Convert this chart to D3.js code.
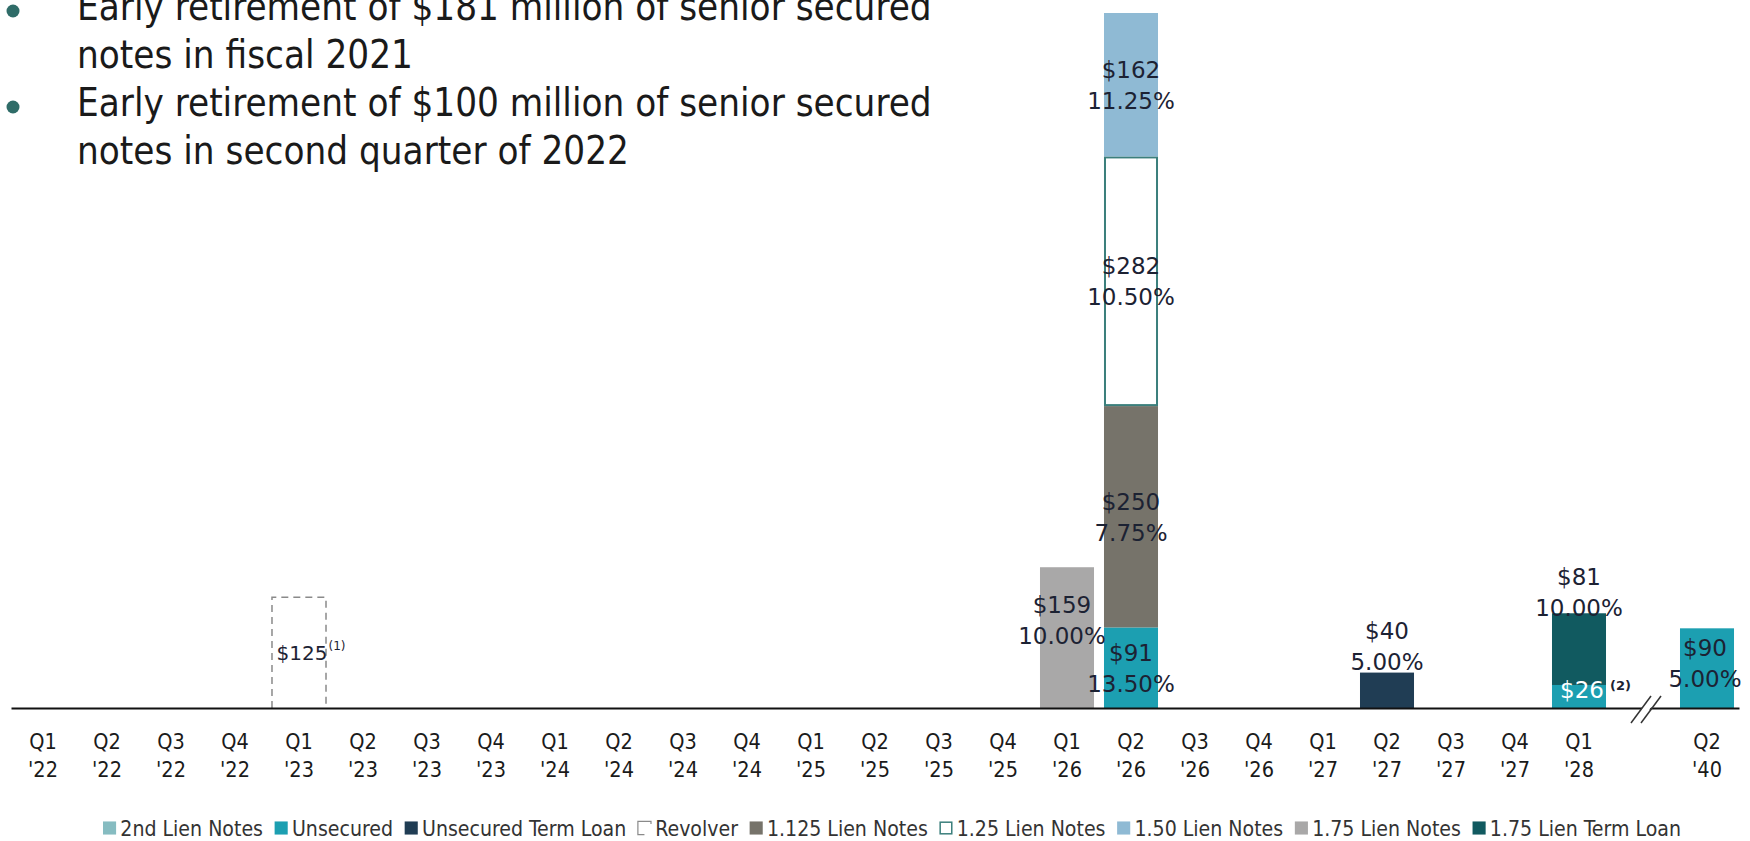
<!DOCTYPE html>
<html>
<head>
<meta charset="utf-8">
<script src="https://cdn.jsdelivr.net/npm/d3@7/dist/d3.min.js"></script>
<style>
  html, body { margin: 0; padding: 0; background: #ffffff; }
  svg { display: block; }
</style>
</head>
<body>
<svg id="chart" width="1750" height="841"></svg>
<script>
// ---- Debt maturity schedule ($ millions, with coupon rates) ----
const quarters = [
  "Q1 '22", "Q2 '22", "Q3 '22", "Q4 '22",
  "Q1 '23", "Q2 '23", "Q3 '23", "Q4 '23",
  "Q1 '24", "Q2 '24", "Q3 '24", "Q4 '24",
  "Q1 '25", "Q2 '25", "Q3 '25", "Q4 '25",
  "Q1 '26", "Q2 '26", "Q3 '26", "Q4 '26",
  "Q1 '27", "Q2 '27", "Q3 '27", "Q4 '27",
  "Q1 '28"
];
const farQuarter = "Q2 '40";

// [quarter, amount, rate]
const secondLienNotes   = [];
const unsecured         = [["Q2 '26", 91, "13.50%"], ["Q1 '28", 26, null], ["Q2 '40", 90, "5.00%"]];
const unsecuredTermLoan = [["Q2 '27", 40, "5.00%"]];
const revolver          = [["Q1 '23", 125, null]];
const lien1125Notes     = [["Q2 '26", 250, "7.75%"]];
const lien125Notes      = [["Q2 '26", 282, "10.50%"]];
const lien150Notes      = [["Q2 '26", 162, "11.25%"]];
const lien175Notes      = [["Q1 '26", 159, "10.00%"]];
const lien175TermLoan   = [["Q1 '28", 81, "10.00%"]];

const footnotes = [["Q1 '23", "Revolver", "(1)"], ["Q1 '28", "Unsecured", "(2)"]];

const bullets = [
  ["Early retirement of $181 million of senior secured", "notes in fiscal 2021"],
  ["Early retirement of $100 million of senior secured", "notes in second quarter of 2022"]
];

// ---- series definitions (stack order bottom -> top) ----
const series = [
  { key: "Unsecured",           data: unsecured,         fill: "#1c9fb1", text: "#1c2233" },
  { key: "Unsecured Term Loan", data: unsecuredTermLoan, fill: "#203d54", text: "#1c2233" },
  { key: "Revolver",            data: revolver,          fill: "none",    text: "#1c2233", dashed: true },
  { key: "1.125 Lien Notes",    data: lien1125Notes,     fill: "#76736a", text: "#1c2233" },
  { key: "1.25 Lien Notes",     data: lien125Notes,      fill: "#ffffff", text: "#1c2233", outline: "#3b7f7c" },
  { key: "1.50 Lien Notes",     data: lien150Notes,      fill: "#8fbad4", text: "#1c2233" },
  { key: "1.75 Lien Notes",     data: lien175Notes,      fill: "#a9a8a8", text: "#1c2233" },
  { key: "1.75 Lien Term Loan", data: lien175TermLoan,   fill: "#115a60", text: "#1c2233" },
  { key: "2nd Lien Notes",      data: secondLienNotes,   fill: "#86bcc1", text: "#1c2233" }
];
const legendOrder = ["2nd Lien Notes", "Unsecured", "Unsecured Term Loan", "Revolver",
  "1.125 Lien Notes", "1.25 Lien Notes", "1.50 Lien Notes", "1.75 Lien Notes", "1.75 Lien Term Loan"];

// label placement rules (layout only)
const labelPlacement = {
  "Q2 '27|Unsecured Term Loan": { mode: "above", dy: 0 },
  "Q1 '28|1.75 Lien Term Loan": { mode: "above", dy: 6 },
  "Q1 '26|1.75 Lien Notes":     { mode: "center", dy: -18, dx: -5 },
  "Q1 '28|Unsecured":           { mode: "center", dy: -7, dx: 3, color: "#ffffff" },
  "Q1 '23|Revolver":            { mode: "center", dy: 0, dx: 3, size: 20 },
  "Q2 '40|Unsecured":           { mode: "center", dy: -5, dx: -2 }
};

// ---- table for the stack ----
const slots = [...quarters, "gap", farQuarter];
const table = slots.map(q => {
  const row = { quarter: q };
  series.forEach(s => {
    const hit = s.data.find(d => d[0] === q);
    row[s.key] = hit ? hit[1] : 0;
  });
  return row;
});
const stacked = d3.stack().keys(series.map(s => s.key))(table);

const svg = d3.select("#chart");
const baseY = 708;

const x = d3.scaleBand().domain(slots).range([11, 1739]).paddingInner(0.156).paddingOuter(0.078);
const y = d3.scaleLinear().domain([0, 785]).range([baseY, 13]);

const labelFont = "'DejaVu Sans', Verdana, sans-serif";
const axisFont = "'DejaVu Sans Condensed', 'DejaVu Sans', sans-serif";

// ---- bullets ----
(function drawBullets() {
  const g = svg.append("g");
  const bulletFont = "'Liberation Sans Narrow', 'DejaVu Sans Condensed', sans-serif";
  const probe = g.append("text")
    .attr("font-family", bulletFont)
    .attr("font-size", 30).text(bullets[0][0]);
  const w = probe.node().getComputedTextLength();
  probe.remove();
  const fs = 30 * 855 / w;
  const baselines = [[20, 68], [116, 164]];
  bullets.forEach((lines, i) => {
    g.append("circle").attr("cx", 13).attr("cy", baselines[i][0] - 9).attr("r", 6.5).attr("fill", "#2f6c68");
    lines.forEach((ln, j) => {
      g.append("text")
        .attr("x", 77).attr("y", baselines[i][j])
        .attr("font-family", bulletFont)
        .attr("font-size", fs).attr("fill", "#1a1a1a")
        .text(ln);
    });
  });
})();

// ---- bars ----
const barG = svg.append("g");
stacked.forEach((layer, li) => {
  const s = series[li];
  layer.forEach((d, i) => {
    if (d[1] - d[0] <= 0) return;
    const q = slots[i];
    const x0 = x(q), w = x.bandwidth();
    const y0 = y(d[0]), y1 = y(d[1]);
    if (s.dashed) {
      barG.append("path")
        .attr("d", `M${x0},${y0} L${x0},${y1} L${x0 + w},${y1} L${x0 + w},${y0}`)
        .attr("fill", "none").attr("stroke", "#8a8a8a").attr("stroke-width", 1.5)
        .attr("stroke-dasharray", "7,5");
    } else if (s.outline) {
      barG.append("rect")
        .attr("x", x0 + 1).attr("y", y1 + 1).attr("width", w - 2).attr("height", y0 - y1 - 2)
        .attr("fill", s.fill).attr("stroke", s.outline).attr("stroke-width", 2);
    } else {
      barG.append("rect")
        .attr("x", x0).attr("y", y1).attr("width", w).attr("height", y0 - y1)
        .attr("fill", s.fill);
    }
  });
});

// ---- axis ----
const axisG = svg.append("g").attr("transform", `translate(0,${baseY})`)
  .call(d3.axisBottom(x).tickSize(0).tickSizeOuter(0).tickFormat(""));
axisG.select(".domain").attr("stroke", "#111").attr("stroke-width", 2);
axisG.selectAll(".tick").each(function(q) {
  if (q === "gap") return;
  const parts = q.split(" ");
  const t = d3.select(this).append("text")
    .attr("fill", "#1a1a1a").attr("font-family", axisFont).attr("font-size", 21.5)
    .attr("text-anchor", "middle");
  t.append("tspan").attr("x", 0).attr("y", 41).text(parts[0]);
  t.append("tspan").attr("x", 0).attr("y", 69).text(parts[1]);
});

// axis break marks
(function drawBreak() {
  const cx = x("gap") + x.bandwidth() / 2 + 4;
  const g = svg.append("g");
  g.append("path")
    .attr("d", `M${cx - 16},${baseY + 15} L${cx + 4},${baseY - 11} L${cx + 12},${baseY - 11} L${cx - 8},${baseY + 15} Z`)
    .attr("fill", "#ffffff");
  [[-16, 4], [-6, 14]].forEach(([a, b]) => {
    g.append("line")
      .attr("x1", cx + a).attr("y1", baseY + 15)
      .attr("x2", cx + b).attr("y2", baseY - 12)
      .attr("stroke", "#333").attr("stroke-width", 1.5);
  });
})();

// ---- value labels ----
const lblG = svg.append("g");
stacked.forEach((layer, li) => {
  const s = series[li];
  layer.forEach((d, i) => {
    if (d[1] - d[0] <= 0) return;
    const q = slots[i];
    const entry = s.data.find(e => e[0] === q);
    const lines = ["$" + entry[1]];
    if (entry[2]) lines.push(entry[2]);
    const p = labelPlacement[q + "|" + s.key] || { mode: "center", dy: 0 };
    const size = p.size || 23;
    const lh = 31;
    const cap = size * 0.73;
    const cx = x(q) + x.bandwidth() / 2 + (p.dx || 0);
    let firstBase;
    if (p.mode === "above") {
      firstBase = y(d[1]) - 3 - (lines.length - 1) * lh + (p.dy || 0);
    } else {
      const mid = (y(d[0]) + y(d[1])) / 2;
      const blockH = cap + (lines.length - 1) * lh;
      firstBase = mid - blockH / 2 + cap + (p.dy || 0);
    }
    const t = lblG.append("text")
      .attr("font-family", labelFont).attr("font-size", size)
      .attr("fill", p.color || s.text).attr("text-anchor", "middle");
    lines.forEach((ln, j) => {
      t.append("tspan").attr("x", cx).attr("y", firstBase + j * lh).text(ln);
    });
    const fn = footnotes.find(f => f[0] === q && f[1] === s.key);
    if (fn) {
      const w = t.node().getComputedTextLength();
      const bold = fn[2] === "(2)";
      lblG.append("text")
        .attr("x", cx + w / 2 + (bold ? 6 : 1))
        .attr("y", firstBase - (bold ? 8 : 10))
        .attr("font-family", labelFont)
        .attr("font-size", bold ? 13 : 12)
        .attr("font-weight", bold ? "bold" : "normal")
        .attr("fill", "#1c2233")
        .text(fn[2]);
    }
  });
});

// ---- legend ----
(function drawLegend() {
  const g = svg.append("g");
  const legendFont = "'DejaVu Sans Condensed', sans-serif";
  const cy = 828;
  function layout(fs) {
    g.selectAll("*").remove();
    let cx = 103;
    const m = fs * 0.62;
    legendOrder.forEach(key => {
      const s = series.find(t => t.key === key);
      const my = cy - m / 2;
      if (s.dashed) {
        g.append("path")
          .attr("d", `M${cx + m},${my + m * 0.2} L${cx + m},${my} L${cx},${my} L${cx},${my + m} L${cx + m * 0.5},${my + m}`)
          .attr("fill", "none").attr("stroke", "#8a8a8a").attr("stroke-width", 1.2);
      } else if (s.outline) {
        g.append("rect").attr("x", cx + 0.75).attr("y", my + 0.75).attr("width", m - 1.5).attr("height", m - 1.5)
          .attr("fill", "#fff").attr("stroke", s.outline).attr("stroke-width", 1.5);
      } else {
        g.append("rect").attr("x", cx).attr("y", my).attr("width", m).attr("height", m).attr("fill", s.fill);
      }
      cx += m + fs * 0.2;
      const t = g.append("text").attr("x", cx).attr("y", cy + fs * 0.36)
        .attr("font-family", legendFont).attr("font-size", fs).attr("fill", "#333").text(key);
      cx += t.node().getComputedTextLength() + fs * 0.55;
    });
    return cx - fs * 0.55 - 103;
  }
  const w0 = layout(18);
  layout(18 * 1579 / w0);
})();
</script>
</body>
</html>
